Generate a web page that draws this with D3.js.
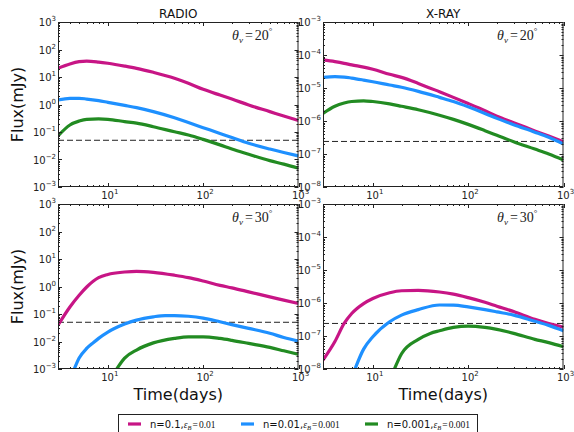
<!DOCTYPE html>
<html>
<head>
<meta charset="utf-8">
<script src="https://cdn.jsdelivr.net/npm/d3@7"></script>
<style>
  body { margin: 0; background: #fff; }
  svg { display: block; }
</style>
</head>
<body>
<svg id="fig" width="574" height="432"></svg>
<script>
// ---- light-curve data (time in days, flux in mJy) ----
const tGrid = [3, 4, 5, 6, 8, 10, 15, 20, 30, 50, 70, 100, 150, 200, 300, 500, 700, 1000];

// RADIO, viewing angle 20 deg
const radio20High = [20.7, 29.7, 36, 38, 35, 31.6, 25, 20.7, 14.8, 9, 5.9, 3.56, 2.2, 1.58, 0.96, 0.55, 0.38, 0.26];
const radio20Mid  = [1.46, 1.68, 1.68, 1.58, 1.38, 1.2, 0.93, 0.77, 0.55, 0.33, 0.22, 0.144, 0.089, 0.063, 0.039, 0.024, 0.018, 0.0135];
const radio20Low  = [0.072, 0.18, 0.25, 0.29, 0.30, 0.29, 0.24, 0.21, 0.156, 0.102, 0.078, 0.054, 0.034, 0.024, 0.0155, 0.0091, 0.0068, 0.0048];

// X-RAY, viewing angle 20 deg
const xray20High = [7.1e-5, 6.3e-5, 5.6e-5, 5.0e-5, 4.3e-5, 3.7e-5, 2.6e-5, 2.1e-5, 1.38e-5, 7.7e-6, 5.2e-6, 3.4e-6, 2.06e-6, 1.4e-6, 8.9e-7, 5.0e-7, 3.5e-7, 2.35e-7];
const xray20Mid  = [2.1e-5, 2.2e-5, 2.15e-5, 2.0e-5, 1.74e-5, 1.55e-5, 1.23e-5, 1.05e-5, 7.9e-6, 5.2e-6, 3.9e-6, 2.7e-6, 1.7e-6, 1.2e-6, 7.7e-7, 4.6e-7, 3.2e-7, 2.0e-7];
const xray20Low  = [1.7e-6, 2.8e-6, 3.5e-6, 3.9e-6, 4.1e-6, 3.9e-6, 3.3e-6, 2.8e-6, 2.2e-6, 1.5e-6, 1.12e-6, 7.9e-7, 5.1e-7, 3.7e-7, 2.35e-7, 1.41e-7, 1.0e-7, 6.6e-8];

// RADIO, viewing angle 30 deg
const radio30High = [0.039, 0.18, 0.48, 0.96, 2.1, 2.75, 3.36, 3.57, 3.28, 2.57, 2.1, 1.58, 1.1, 0.89, 0.64, 0.42, 0.32, 0.24];
const radio30MidT = [4.2, 5, 6, 7, 8, 10, 15, 20, 30, 40, 50, 70, 100, 150, 200, 300, 500, 700, 1000];
const radio30Mid  = [0.0006, 0.0025, 0.0056, 0.0089, 0.013, 0.022, 0.043, 0.06, 0.079, 0.088, 0.088, 0.083, 0.071, 0.052, 0.041, 0.03, 0.02, 0.014, 0.0103];
const radio30LowT = [11.3, 15, 20, 30, 50, 70, 100, 150, 200, 300, 500, 700, 1000];
const radio30Low  = [0.0006, 0.0025, 0.0049, 0.0089, 0.013, 0.0148, 0.0148, 0.0129, 0.011, 0.0085, 0.0061, 0.0046, 0.0034];

// X-RAY, viewing angle 30 deg
const xray30High = [1.86e-8, 6.8e-8, 2.4e-7, 4.8e-7, 9.6e-7, 1.37e-6, 2.05e-6, 2.35e-6, 2.4e-6, 2.15e-6, 1.85e-6, 1.45e-6, 1.05e-6, 8.0e-7, 5.5e-7, 3.2e-7, 2.4e-7, 1.85e-7];
const xray30MidT = [6.2, 8, 10, 15, 20, 30, 50, 70, 100, 150, 200, 300, 500, 700, 1000];
const xray30Mid  = [7e-9, 4.0e-8, 9.5e-8, 2.7e-7, 4.3e-7, 6.3e-7, 8.7e-7, 8.6e-7, 7.6e-7, 6.3e-7, 5.4e-7, 4.3e-7, 2.8e-7, 2.1e-7, 1.44e-7];
const xray30LowT = [16, 20, 30, 40, 50, 70, 100, 150, 200, 300, 500, 700, 1000];
const xray30Low  = [7e-9, 2.9e-8, 7.9e-8, 1.2e-7, 1.44e-7, 1.82e-7, 2.0e-7, 1.82e-7, 1.58e-7, 1.2e-7, 7.9e-8, 6.3e-8, 4.7e-8];

// detection limits (dashed lines)
const radioLimit = 0.05;
const xrayLimit = 2.4e-7;

// axis decades / tick labels
const xDecades = [1, 2, 3];
const radioDecades = [-3, -2, -1, 0, 1, 2, 3];
const xrayDecades = [-8, -7, -6, -5, -4, -3];

const titles = ['RADIO', 'X-RAY'];
const angles = [20, 30];
const legendN = ['n=0.1,', 'n=0.01,', 'n=0.001,'];
const legendEps = ['0.01', '0.001', '0.001'];
const seriesColors = ['#C71585', '#1E90FF', '#228B22'];

// ---- drawing ----
const svg = d3.select('#fig');
const sansFont = 'DejaVu Sans, sans-serif';
const mathFont = 'Liberation Serif, DejaVu Serif, serif';

const PW = 240.5, PH = 165;
const panels = [
  { left: 58,  top: 22,  band: 'radio', angle: angles[0], title: titles[0],
    series: [[tGrid, radio20High], [tGrid, radio20Mid], [tGrid, radio20Low]] },
  { left: 323, top: 22,  band: 'xray', angle: angles[0], title: titles[1],
    series: [[tGrid, xray20High], [tGrid, xray20Mid], [tGrid, xray20Low]] },
  { left: 58,  top: 204, band: 'radio', angle: angles[1],
    series: [[tGrid, radio30High], [radio30MidT, radio30Mid], [radio30LowT, radio30Low]] },
  { left: 323, top: 204, band: 'xray', angle: angles[1],
    series: [[tGrid, xray30High], [xray30MidT, xray30Mid], [xray30LowT, xray30Low]] }
];

function powLabel(text, e) {
  text.append('tspan').text('10');
  text.append('tspan').attr('dy', -5).attr('font-size', 7)
    .text(e < 0 ? '\u2212' + (-e) : String(e));
}

panels.forEach((p, i) => {
  const decades = p.band === 'radio' ? radioDecades : xrayDecades;
  const limit = p.band === 'radio' ? radioLimit : xrayLimit;
  const x = d3.scaleLog().domain([3, 1000]).range([p.left, p.left + PW]);
  const y = d3.scaleLog()
    .domain([Math.pow(10, decades[0]), Math.pow(10, decades[decades.length - 1])])
    .range([p.top + PH, p.top]);

  const g = svg.append('g');
  const clipId = 'clip' + i;
  svg.append('clipPath').attr('id', clipId)
    .append('rect').attr('x', p.left).attr('y', p.top).attr('width', PW).attr('height', PH);

  // detection limit
  g.append('line')
    .attr('x1', p.left).attr('x2', p.left + PW)
    .attr('y1', y(limit)).attr('y2', y(limit))
    .attr('stroke', '#222').attr('stroke-width', 1)
    .attr('stroke-dasharray', '6,3');

  // light curves
  const line = d3.line()
    .x(d => x(d[0])).y(d => y(d[1]))
    .curve(d3.curveMonotoneX);
  const curves = g.append('g').attr('clip-path', `url(#${clipId})`);
  p.series.forEach((s, k) => {
    const pts = s[0].map((t, j) => [t, s[1][j]]);
    curves.append('path').attr('d', line(pts))
      .attr('fill', 'none').attr('stroke', seriesColors[k])
      .attr('stroke-width', 3.2).attr('stroke-linejoin', 'round');
  });

  // ticks (inward, all four sides)
  const ticks = g.append('g').attr('stroke', '#222').attr('stroke-width', 1);
  const bottom = p.top + PH, right = p.left + PW;
  const xMinor = [], xMajor = [];
  [0, 1, 2].forEach(d => {
    for (let m = 1; m <= 9; m++) {
      const v = m * Math.pow(10, d);
      if (v < 3 || v > 1000) continue;
      (m === 1 ? xMajor : xMinor).push(v);
    }
  });
  xMajor.push(1000);
  xMajor.forEach(v => {
    const xx = Math.round(x(v)) + 0.5;
    ticks.append('line').attr('x1', xx).attr('x2', xx).attr('y1', bottom).attr('y2', bottom - 4);
    ticks.append('line').attr('x1', xx).attr('x2', xx).attr('y1', p.top).attr('y2', p.top + 4);
  });
  xMinor.forEach(v => {
    const xx = Math.round(x(v)) + 0.5;
    ticks.append('line').attr('x1', xx).attr('x2', xx).attr('y1', bottom).attr('y2', bottom - 2);
    ticks.append('line').attr('x1', xx).attr('x2', xx).attr('y1', p.top).attr('y2', p.top + 2);
  });
  decades.forEach((d, di) => {
    const yy = Math.round(y(Math.pow(10, d))) + 0.5;
    ticks.append('line').attr('x1', p.left).attr('x2', p.left + 4).attr('y1', yy).attr('y2', yy);
    ticks.append('line').attr('x1', right).attr('x2', right - 4).attr('y1', yy).attr('y2', yy);
    if (di < decades.length - 1) {
      for (let m = 2; m <= 9; m++) {
        const ym = Math.round(y(m * Math.pow(10, d))) + 0.5;
        ticks.append('line').attr('x1', p.left).attr('x2', p.left + 2).attr('y1', ym).attr('y2', ym);
        ticks.append('line').attr('x1', right).attr('x2', right - 2).attr('y1', ym).attr('y2', ym);
      }
    }
  });

  // frame
  g.append('rect')
    .attr('x', p.left + 0.5).attr('y', p.top + 0.5)
    .attr('width', PW - 1).attr('height', PH - 1)
    .attr('fill', 'none').attr('stroke', '#222').attr('stroke-width', 1);

  // tick labels
  const labels = g.append('g').attr('font-family', sansFont).attr('font-size', 10).attr('fill', '#222');
  decades.forEach(d => {
    const t = labels.append('text')
      .attr('x', p.left - 2).attr('y', y(Math.pow(10, d)) + 4)
      .attr('text-anchor', 'end');
    powLabel(t, d);
  });
  xDecades.forEach(d => {
    const t = labels.append('text')
      .attr('x', x(Math.pow(10, d)) + 2).attr('y', bottom + 12)
      .attr('text-anchor', 'middle');
    powLabel(t, d);
  });

  // viewing-angle annotation
  const ann = g.append('text')
    .attr('x', p.left + 174).attr('y', p.top + 18)
    .attr('font-family', mathFont).attr('font-size', 14).attr('fill', '#222');
  ann.append('tspan').attr('font-style', 'italic').text('\u03B8');
  ann.append('tspan').attr('font-style', 'italic').attr('font-size', 9).attr('dy', 3).text('v');
  ann.append('tspan').attr('dy', -3).attr('dx', 2).text('=');
  ann.append('tspan').attr('dx', 2).text(String(p.angle));
  ann.append('tspan').attr('dy', -6).attr('font-size', 9).text('\u00B0');

  if (p.title) {
    g.append('text').attr('x', p.left + PW / 2).attr('y', 18)
      .attr('text-anchor', 'middle').attr('font-family', sansFont)
      .attr('font-size', 12).attr('fill', '#111').text(p.title);
  }
  if (p.left < 100) {
    g.append('text')
      .attr('transform', `translate(23,${p.top + PH / 2}) rotate(-90)`)
      .attr('text-anchor', 'middle').attr('font-family', sansFont)
      .attr('font-size', 16).attr('fill', '#111').text('Flux(mJy)');
  }
  if (p.top > 100) {
    g.append('text').attr('x', p.left + PW / 2).attr('y', 400)
      .attr('text-anchor', 'middle').attr('font-family', sansFont)
      .attr('font-size', 16).attr('fill', '#111').text('Time(days)');
  }
});

// legend
const lg = svg.append('g');
lg.append('rect').attr('x', 118.5).attr('y', 414.5).attr('width', 359).attr('height', 30)
  .attr('fill', '#fff').attr('stroke', '#222').attr('stroke-width', 1);
const legendX = [128, 241, 365];
legendN.forEach((n, k) => {
  lg.append('line')
    .attr('x1', legendX[k]).attr('x2', legendX[k] + 13)
    .attr('y1', 424).attr('y2', 424)
    .attr('stroke', seriesColors[k]).attr('stroke-width', 3.2);
  const t = lg.append('text').attr('x', legendX[k] + 22).attr('y', 427.5)
    .attr('font-family', sansFont).attr('font-size', 10).attr('fill', '#111');
  t.append('tspan').text(n);
  const m = { 'font-family': mathFont, 'font-size': 9.5 };
  t.append('tspan').attr('font-family', mathFont).attr('font-size', 9.5)
    .attr('font-style', 'italic').text('\u03B5');
  t.append('tspan').attr('font-family', mathFont).attr('font-style', 'italic')
    .attr('font-size', 6.5).attr('dy', 2).text('B');
  t.append('tspan').attr('font-family', mathFont).attr('font-size', 9.5)
    .attr('dy', -2).attr('dx', 1).text('=');
  t.append('tspan').attr('font-family', mathFont).attr('font-size', 9.5)
    .attr('dx', 1).text(legendEps[k]);
});
</script>
</body>
</html>
